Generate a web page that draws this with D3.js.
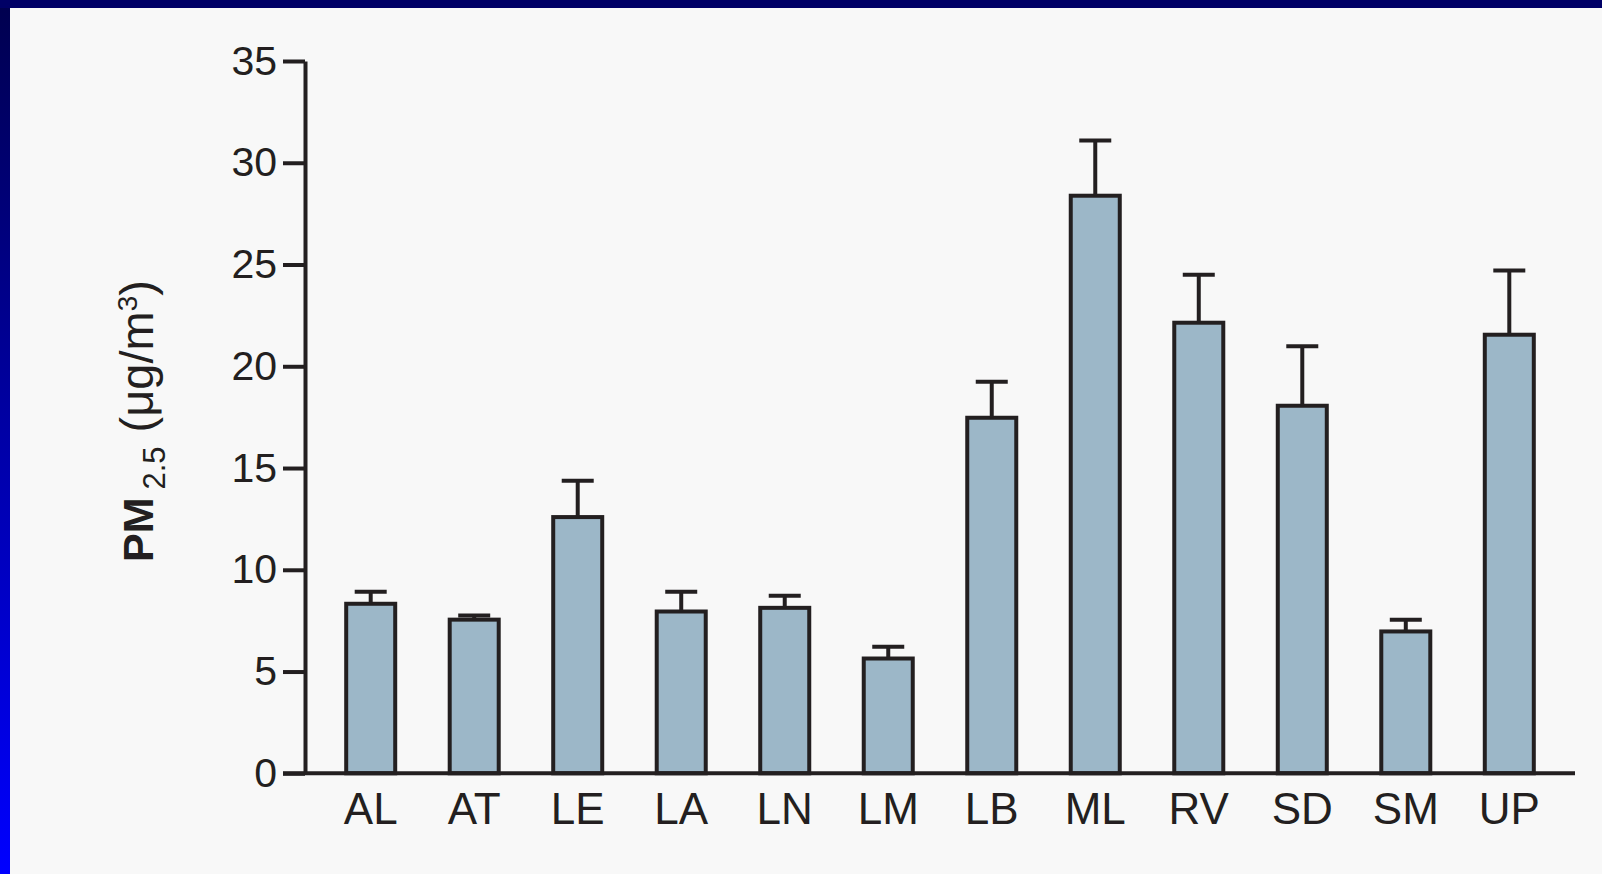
<!DOCTYPE html>
<html>
<head>
<meta charset="utf-8">
<script src="https://cdn.jsdelivr.net/npm/d3@7"></script>
<style>
  html, body { margin: 0; padding: 0; background: #f8f8f8; }
  svg { display: block; }
</style>
</head>
<body>
<svg id="chart" width="1602" height="874"></svg>
<script>
// PM2.5 concentration by site: mean with upper error bar
const sites = ["AL", "AT", "LE", "LA", "LN", "LM", "LB", "ML", "RV", "SD", "SM", "UP"];
const means = [8.33, 7.55, 12.59, 7.95, 8.13, 5.64, 17.47, 28.38, 22.14, 18.06, 6.97, 21.55];
const errors = [0.59, 0.20, 1.79, 0.97, 0.60, 0.58, 1.77, 2.71, 2.36, 2.92, 0.58, 3.15];
const yTicks = [0, 5, 10, 15, 20, 25, 30, 35];

const data = sites.map((s, i) => ({ site: s, mean: means[i], err: errors[i] }));

const W = 1602, H = 874;
const ink = "#231f20";
const lw = 4;
const svg = d3.select("#chart");

// slide frame: gradient strip on the left, dark band on top
const defs = svg.append("defs");
const grad = defs.append("linearGradient")
  .attr("id", "leftStrip").attr("x1", 0).attr("y1", 0).attr("x2", 0).attr("y2", 1);
grad.append("stop").attr("offset", "0%").attr("stop-color", "#00004e");
grad.append("stop").attr("offset", "100%").attr("stop-color", "#0000ff");

svg.append("rect").attr("width", W).attr("height", H).attr("fill", "#f8f8f8");
svg.append("rect").attr("x", 0).attr("y", 0).attr("width", 10).attr("height", H)
  .attr("fill", "url(#leftStrip)");
svg.append("rect").attr("x", 0).attr("y", 0).attr("width", W).attr("height", 8)
  .attr("fill", "#000066");

// plot geometry
const axisX = 305, tickLen = 22;
const x = d3.scaleBand()
  .domain(sites)
  .range([axisX, 1575])
  .paddingInner(0.5265)
  .paddingOuter(0.398);
const y = d3.scaleLinear().domain([0, 35]).range([773.3, 61]);

const font = "'Liberation Sans', Arial, sans-serif";

// bars
svg.append("g").selectAll("rect")
  .data(data)
  .join("rect")
  .attr("x", d => x(d.site))
  .attr("y", d => y(d.mean))
  .attr("width", x.bandwidth())
  .attr("height", d => y(0) - y(d.mean))
  .attr("fill", "#9cb7c8")
  .attr("stroke", ink)
  .attr("stroke-width", lw);

// error bars (upper only)
const capW = 32;
const eb = svg.append("g").attr("stroke", ink).attr("stroke-width", lw).attr("fill", "none");
eb.selectAll("line.stem")
  .data(data)
  .join("line")
  .attr("class", "stem")
  .attr("x1", d => x(d.site) + x.bandwidth() / 2)
  .attr("x2", d => x(d.site) + x.bandwidth() / 2)
  .attr("y1", d => y(d.mean))
  .attr("y2", d => y(d.mean + d.err));
eb.selectAll("line.cap")
  .data(data)
  .join("line")
  .attr("class", "cap")
  .attr("x1", d => x(d.site) + x.bandwidth() / 2 - capW / 2)
  .attr("x2", d => x(d.site) + x.bandwidth() / 2 + capW / 2)
  .attr("y1", d => y(d.mean + d.err))
  .attr("y2", d => y(d.mean + d.err));

// y axis
const gy = svg.append("g")
  .attr("transform", `translate(${axisX},0)`)
  .call(d3.axisLeft(y).tickValues(yTicks).tickFormat(d3.format("d"))
    .tickSize(tickLen).tickSizeOuter(0).tickPadding(6));
gy.selectAll("path, line").attr("stroke", ink).attr("stroke-width", lw);
gy.selectAll("text")
  .attr("fill", ink)
  .style("font-family", font)
  .style("font-size", "41px");

// x axis: baseline runs from the start of the y ticks to the end of the range
const gx = svg.append("g")
  .attr("transform", `translate(0,${y(0)})`)
  .call(d3.axisBottom(x).tickSize(0).tickPadding(19));
gx.select(".domain").remove();
gx.selectAll("text")
  .attr("fill", ink)
  .style("font-family", font)
  .style("font-size", "44px");
svg.append("line")
  .attr("x1", axisX - tickLen).attr("x2", x.range()[1])
  .attr("y1", y(0)).attr("y2", y(0))
  .attr("stroke", ink).attr("stroke-width", lw);

// y axis title: PM2.5 (μg/m3)
const title = svg.append("text")
  .attr("transform", "rotate(-90)")
  .attr("x", -562)
  .attr("y", 153)
  .attr("fill", ink)
  .style("font-family", font);
title.append("tspan").text("PM").style("font-weight", "bold").style("font-size", "43px");
title.append("tspan").text("2.5").attr("dx", 8).attr("dy", 12).style("font-size", "31px");
title.append("tspan").text("(\u03bcg/m").attr("dx", 14).attr("dy", -12).style("font-size", "47px");
title.append("tspan").text("3").attr("dy", -16).style("font-size", "28px");
title.append("tspan").text(")").attr("dy", 16).style("font-size", "47px");
</script>
</body>
</html>
